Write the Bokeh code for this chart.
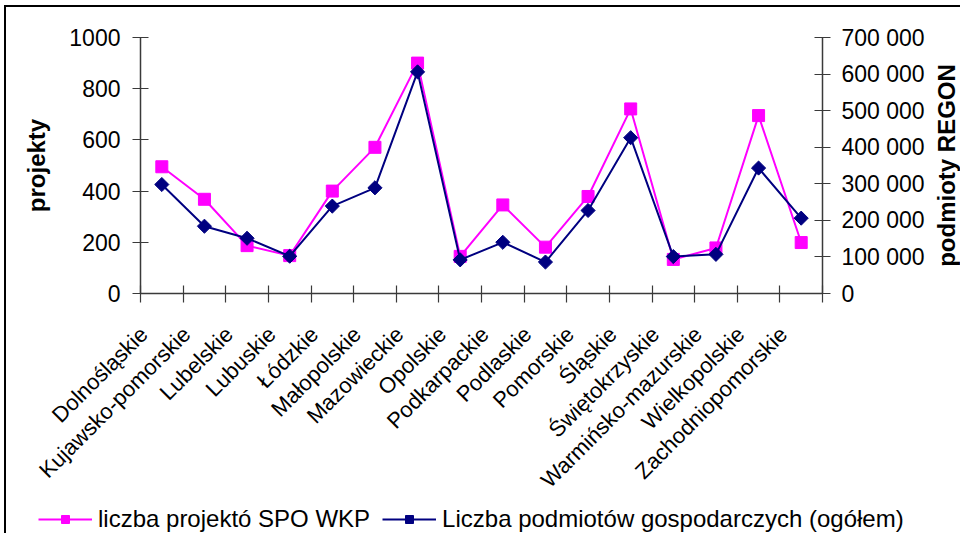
import numpy as np
from bokeh.plotting import figure
from bokeh.models import (Range1d, LinearAxis, FixedTicker, ColumnDataSource,
                          Legend, LegendItem, Column, Row)
from bokeh.core.properties import value
from bokeh.embed import file_html
from bokeh.resources import INLINE

# ---- data ----
regions = ["Dolnośląskie", "Kujawsko-pomorskie", "Lubelskie", "Lubuskie", "Łódzkie",
           "Małopolskie", "Mazowieckie", "Opolskie", "Podkarpackie", "Podlaskie",
           "Pomorskie", "Śląskie", "Świętokrzyskie", "Warmińsko-mazurskie",
           "Wielkopolskie", "Zachodniopomorskie"]
projekty = [495, 368, 187, 148, 400, 571, 900, 145, 346, 181, 379, 721, 133, 178, 695, 199]
podmioty = [298000, 184000, 151000, 102000, 239000, 289000, 606000, 92000,
            140000, 86000, 227000, 426000, 101000, 107000, 343000, 206000]
left_ticks = [0, 200, 400, 600, 800, 1000]
right_ticks = [0, 100000, 200000, 300000, 400000, 500000, 600000, 700000]
right_tick_labels = ["0", "100 000", "200 000", "300 000", "400 000", "500 000", "600 000", "700 000"]
series_names = ["liczba projektó SPO WKP", "Liczba podmiotów gospodarczych (ogółem)"]
axis_titles = ["projekty", "podmioty REGON"]

FONT = "Liberation Sans"
PINK = "#FF00FF"
NAVY = "#000080"
AXIS = "#3a3a3a"

n = len(regions)
xc = [i + 0.5 for i in range(n)]          # category centres on a category-index scale
bounds = list(range(n + 1))               # category boundaries (tick marks)
LABEL_SHIFT = 0.42                        # rotated names end a little left of the centre
label_pos = [x - LABEL_SHIFT for x in xc]

W1, H1, WR, H2 = 926, 498, 28, 28
MB_TOP, MB_BOTTOM = 30, 212

# ---------------- main chart ----------------
p = figure(width=W1, height=H1, output_backend="svg", toolbar_location=None,
           x_range=Range1d(0, n), y_range=Range1d(left_ticks[0], left_ticks[-1]),
           x_axis_location=None, y_axis_location="left",
           min_border_left=134, min_border_right=110, min_border_top=MB_TOP,
           min_border_bottom=MB_BOTTOM)
p.outline_line_color = None
p.grid.grid_line_color = None
p.background_fill_color = "white"
p.border_fill_color = "white"
p.extra_y_ranges = {"regon": Range1d(right_ticks[0], right_ticks[-1])}

def style_axis(ax, tin, tout):
    ax.major_tick_in = tin
    ax.major_tick_out = tout
    ax.minor_tick_line_color = None
    ax.axis_line_color = AXIS
    ax.axis_line_width = 1.5
    ax.major_tick_line_color = AXIS
    ax.major_tick_line_width = 1.2
    ax.major_label_text_font = FONT
    ax.major_label_text_font_size = "23px"
    ax.major_label_text_color = "black"

ya = p.yaxis[0]
ya.ticker = FixedTicker(ticks=left_ticks)
style_axis(ya, 8, 8)
ya.major_label_standoff = 12
ya.axis_label = axis_titles[0]
ya.axis_label_text_font = FONT
ya.axis_label_text_font_style = "bold"
ya.axis_label_text_font_size = "24px"
ya.axis_label_text_color = "black"
ya.axis_label_standoff = 16

ra = LinearAxis(y_range_name="regon", ticker=FixedTicker(ticks=right_ticks),
                major_label_overrides={t: s for t, s in zip(right_ticks, right_tick_labels)})
style_axis(ra, 8, 8)
ra.major_label_standoff = 11
p.add_layout(ra, "right")

ba = LinearAxis(ticker=FixedTicker(ticks=label_pos, minor_ticks=bounds),
                major_label_overrides={x: r for x, r in zip(label_pos, regions)},
                major_label_orientation=np.pi / 4)
style_axis(ba, 0, 0)
ba.major_label_text_font_size = "22px"
ba.minor_tick_line_color = AXIS
ba.minor_tick_line_width = 1.2
ba.minor_tick_in = 8
ba.minor_tick_out = 9
ba.major_label_standoff = 28
p.add_layout(ba, "below")

src = ColumnDataSource(dict(x=xc, region=regions, proj=projekty, pod=podmioty))
p.line("x", "proj", source=src, line_color=PINK, line_width=2)
p.scatter("x", "proj", source=src, marker="square", size=12, fill_color=PINK, line_color=PINK)
p.line("x", "pod", source=src, y_range_name="regon", line_color=NAVY, line_width=2)
p.scatter("x", "pod", source=src, y_range_name="regon", marker="square",
          angle=np.pi / 4, size=10, fill_color=NAVY, line_color=NAVY)

# ---------------- right axis title strip ----------------
pr = figure(width=WR, height=H1, output_backend="svg", toolbar_location=None,
            x_range=Range1d(0, 1), y_range=Range1d(left_ticks[0], left_ticks[-1]),
            x_axis_location=None, y_axis_location=None,
            min_border_left=0, min_border_right=0, min_border_top=MB_TOP,
            min_border_bottom=MB_BOTTOM)
pr.outline_line_color = None
pr.grid.grid_line_color = None
pr.text(x=[0.5], y=[(left_ticks[0] + left_ticks[-1]) / 2], text=[axis_titles[1]],
        angle=np.pi / 2, text_align="center", text_baseline="middle",
        text_font=value(FONT), text_font_style="bold", text_font_size="24px",
        text_color="black")

# ---------------- legend strip ----------------
pl = figure(width=W1 + WR, height=H2, output_backend="svg", toolbar_location=None,
            x_range=Range1d(0, n), y_range=Range1d(-2, -1),
            x_axis_location=None, y_axis_location=None,
            min_border_left=0, min_border_right=0, min_border_top=0, min_border_bottom=0)
pl.outline_line_color = None
pl.grid.grid_line_color = None
ll1 = pl.line("x", "proj", source=src, line_color=PINK, line_width=2)
ls1 = pl.scatter("x", "proj", source=src, marker="square", size=12, fill_color=PINK, line_color=PINK)
ll2 = pl.line("x", "pod", source=src, line_color=NAVY, line_width=2)
ls2 = pl.scatter("x", "pod", source=src, marker="square", angle=np.pi / 4, size=10,
                 fill_color=NAVY, line_color=NAVY)
legend = Legend(items=[LegendItem(label=series_names[0], renderers=[ll1, ls1]),
                       LegendItem(label=series_names[1], renderers=[ll2, ls2])],
                orientation="horizontal", location=(32, 0),
                glyph_width=54, glyph_height=20, label_standoff=6, spacing=12,
                padding=0, margin=0,
                label_text_font=FONT, label_text_font_size="24px", label_text_color="black",
                background_fill_alpha=0, border_line_color=None)
pl.add_layout(legend, "center")

# chart area border (left and top edges visible)
root = Column(children=[Row(children=[p, pr], spacing=0), pl], spacing=0,
              margin=(5, 0, 0, 4),
              styles={"border-left": "2px solid black", "border-top": "2px solid black"})

open("out.html", "w").write(file_html(root, INLINE))
